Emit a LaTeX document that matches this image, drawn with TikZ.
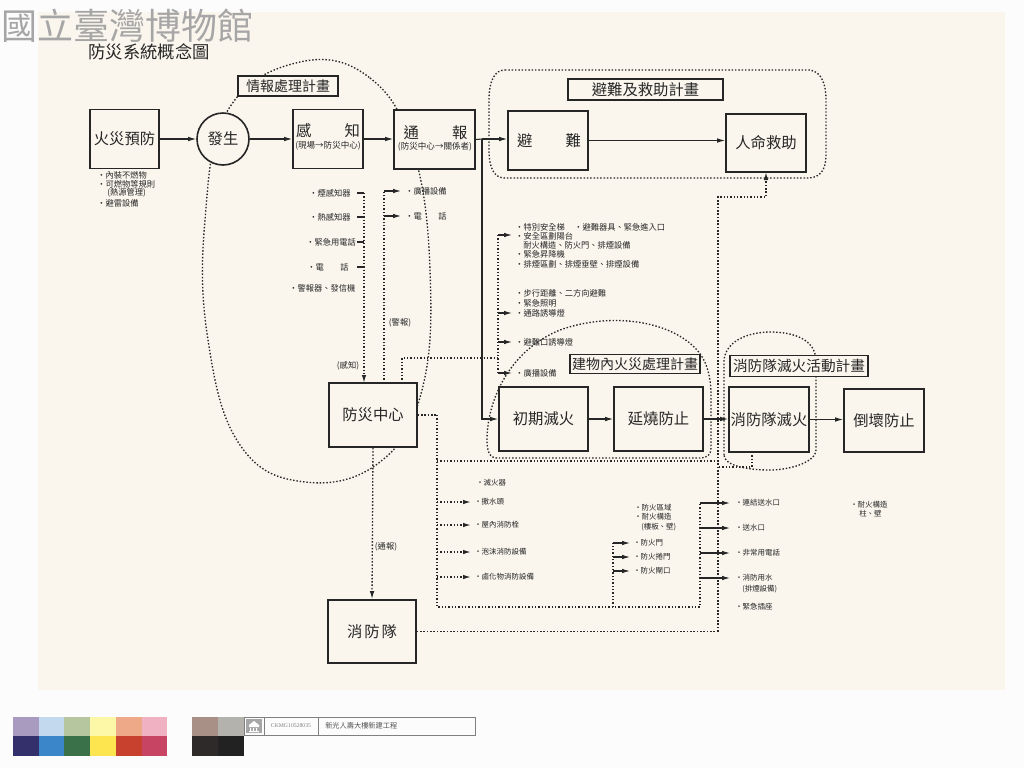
\documentclass[tikz,border=0pt]{standalone}
\usepackage{fontspec}
\setmainfont{Noto Sans CJK TC}
\newfontfamily\serifnum{Liberation Serif}
\usetikzlibrary{arrows.meta}
\definecolor{paper}{HTML}{FAF6EE}
\definecolor{ink}{HTML}{262626}
\definecolor{wm}{HTML}{A6A6A6}
\definecolor{cA}{HTML}{A99BC0}\definecolor{cB}{HTML}{C3D9EE}\definecolor{cC}{HTML}{B6C7A0}
\definecolor{cD}{HTML}{FDF7A8}\definecolor{cE}{HTML}{EEAA88}\definecolor{cF}{HTML}{F0B2C3}
\definecolor{dA}{HTML}{33306B}\definecolor{dB}{HTML}{3A86C8}\definecolor{dC}{HTML}{3A7149}
\definecolor{dD}{HTML}{FDE550}\definecolor{dE}{HTML}{C8412F}\definecolor{dF}{HTML}{C84463}
\definecolor{gA}{HTML}{A99087}\definecolor{gB}{HTML}{B4B2AD}\definecolor{gC}{HTML}{2E2A2A}\definecolor{gD}{HTML}{232222}
\begin{document}
\begin{tikzpicture}[x=0.75pt,y=-0.75pt,
  wh/.style 2 args={minimum width=#1*0.75pt,minimum height=#2*0.75pt},
  box/.style={draw=ink,line width=1.2pt,fill=paper,inner sep=0pt,text=ink,font=\fontsize{11.5}{13}\selectfont},
  lbl/.style={draw=ink,line width=1.1pt,fill=paper,inner sep=0pt,text=ink},
  big/.style={font=\fontsize{11.5}{13}\selectfont,text=ink,inner sep=0pt},
  sub/.style={font=\fontsize{6.4}{8}\selectfont,text=ink,inner sep=0pt},
  item/.style={font=\fontsize{6.2}{7.5}\selectfont,text=ink,anchor=west,inner sep=0pt},
  sitem/.style={font=\fontsize{5.6}{6.5}\selectfont,text=ink,anchor=west,inner sep=0pt},
  ln/.style={draw=ink,line width=0.8pt},
  arr/.style={ln,-{Latex[length=6pt,width=3.4pt]}},
  dot/.style={draw=ink,line width=1pt,dash pattern=on 1.1pt off 1.4pt},
  darr/.style={dot,-{Latex[length=6pt,width=3.4pt]}},
]
\useasboundingbox (0,0) rectangle (1024,768);
\fill[white!98!gray] (0,0) rectangle (1024,768);
\fill[paper] (38,12) rectangle (1005,690);

% watermark and title
\node[text=wm,font=\fontsize{27}{30}\selectfont,inner sep=0pt] (wmark) at (128,26) {國立臺灣博物館};
\node[text=ink,font=\fontsize{13}{15}\selectfont,inner sep=0pt] (title) at (149,52) {防災系統概念圖};

% plan outlines
\draw[dot] plot[smooth cycle, tension=0.7] coordinates {(300,62) (370,78) (413,150) (430,270) (422,390) (380,462) (305,482) (240,445) (208,340) (205,220) (228,110)};
\draw[dot] (505,70) -- (810,70) .. controls (822,72) and (826,85) .. (826,100) -- (826,155) .. controls (826,170) and (820,178) .. (808,178) -- (505,178) .. controls (494,178) and (489,168) .. (489,150) -- (489,100) .. controls (489,80) and (495,70) .. (505,70) -- cycle;
\draw[dot] (497,458) .. controls (489,458) and (487,450) .. (487,440) .. controls (487,400) and (510,350) .. (560,330) .. controls (610,312) and (670,320) .. (697,350) .. controls (708,362) and (711,380) .. (711,395) -- (711,448) .. controls (711,455) and (707,458) .. (700,458) -- cycle;
\draw[dot] (724,455) -- (724,360) .. controls (726,340) and (750,332) .. (770,332) .. controls (795,332) and (815,340) .. (816,360) -- (816,450) .. controls (816,462) and (790,470) .. (770,470) .. controls (745,470) and (724,465) .. (724,455) -- cycle;

% connectors (drawn before boxes)
\coordinate (J) at (482,139);
\coordinate (Jb) at (482,419);
\coordinate (R0) at (718,631.5);
\coordinate (R1) at (718,197);
\coordinate (R2) at (766,197);
\coordinate (C1) at (437,415);
\coordinate (C2) at (437,607);
\coordinate (C3) at (700,607);
\coordinate (C4) at (700,503);
\coordinate (C5) at (437,461);
\coordinate (C6) at (718,461);
\coordinate (F1) at (613,607);
\coordinate (F2) at (613,543);
\coordinate (S1) at (364,193);
\coordinate (S2) at (364,383);
\coordinate (A1) at (384,383);
\coordinate (A2) at (384,191);
\coordinate (E1) at (402,383);
\coordinate (E2) at (402,358);
\coordinate (E3) at (498,358);
\coordinate (E4) at (498,235);
\coordinate (E5) at (498,373);
\coordinate (B1) at (752,452);
\coordinate (B2) at (752,467);
\coordinate (B3) at (718,467);

\draw[darr] (R0) -- (R1) -- (R2) -- (766,172);
\draw[dot] (B1) -- (B2) -- (B3);
\draw[dot] (C1) -- (C2) -- (C3) -- (C4);
\draw[dot] (C5) -- (C6);
\foreach \y in {502,525,552,577} \draw[darr] (437,\y) -- (471,\y);
\draw[dot] (F1) -- (F2);
\foreach \y in {543,557,571} \draw[arr] (613,\y) -- (630,\y);
\foreach \y in {503,528,553,578} \draw[arr] (700,\y) -- (730,\y);
\foreach \y in {193,217,242,267} \draw[ln] (357,\y) -- (364,\y);
\draw[darr] (S1) -- (S2);
\draw[dot] (A1) -- (A2);
\draw[arr] (A2) -- (401,191);
\draw[arr] (384,216) -- (401,216);
\draw[dot] (E1) -- (E2) -- (E3);
\draw[dot] (E4) -- (E5);
\foreach \y in {235,313,342,373} \draw[arr] (498,\y) -- (512,\y);

% main nodes
\node[box,wh={69}{59}] (fire) at (124.5,139) {火災預防};
\node[box,circle,minimum size=52*0.75pt] (occur) at (223,139) {發生};
\node[box,wh={70}{59}] (sense) at (328,139) {};
\node[big] (sense-t) at (328,131) {感\hspace{25pt}知};
\node[sub] (sense-s) at (328,146) {(現場→防災中心)};
\node[box,wh={81}{59}] (report) at (434.5,139.5) {};
\node[big] (report-t) at (435.5,133) {通\hspace{25pt}報};
\node[sub] (report-s) at (435,147) {(防災中心→關係者)};
\node[box,wh={80}{59}] (evac) at (548,140.5) {};
\node[big] (evac-t) at (549,141) {避\hspace{25pt}難};
\node[box,wh={80}{58}] (rescue) at (766,143) {人命救助};
\node[box,wh={88}{64}] (center) at (373,415) {防災中心};
\node[box,wh={88}{63}] (brigade) at (372,631.5) {消\hspace{1.5pt}防\hspace{1.5pt}隊};
\node[box,wh={89}{64}] (initial) at (543.5,419) {初期滅火};
\node[box,wh={89}{64}] (spread) at (658.5,419) {延燒防止};
\node[box,wh={80}{65}] (brigadeext) at (769,419.5) {消防隊滅火};
\node[box,wh={80}{63}] (collapse) at (884,420.5) {倒壞防止};

\node[lbl,wh={100}{20},font=\fontsize{10.5}{12}\selectfont] (lab-info) at (288,86) {情報處理計畫};
\node[lbl,wh={155}{21},font=\fontsize{11.5}{13}\selectfont] (lab-evac) at (645.5,89.5) {避難及救助計畫};
\node[lbl,wh={130}{19},font=\fontsize{10.5}{12}\selectfont] (lab-bldg) at (635,364) {建物內火災處理計畫};
\node[lbl,wh={138}{21},font=\fontsize{11}{12}\selectfont] (lab-brig) at (799,366) {消防隊滅火活動計畫};

% solid arrows between boxes
\draw[arr] (fire.east) -- (occur.west);
\draw[arr] (occur.east) -- (sense.west);
\draw[arr] (sense.east) -- (sense.east -| report.west);
\draw[ln] (report.east) -- (J);
\draw[arr] (J) -- (J -| evac.west);
\draw[arr] (J) -- (Jb) -- (initial.west);
\draw[arr] (evac.east) -- (evac.east -| rescue.west);
\draw[arr] (initial.east) -- (spread.west);
\draw[arr] (spread.east) -- (spread.east -| brigadeext.west);
\draw[arr] (brigadeext.east) -- (brigadeext.east -| collapse.west);
\draw[darr] (center.south) -- (brigade.north);
\draw[dot] (brigade.east) -- (R0);
\draw[dot] (center.east) -- (C1);

% connector labels
\node[item,anchor=center] (l-sense) at (348,366) {(感知)};
\node[item,anchor=center] (l-alarm) at (400,323) {(警報)};
\node[item,anchor=center] (l-notify) at (386,547) {(通報)};

% lists: prevention
\node[item] (p1) at (97,175) {・內裝不燃物};
\node[item] (p2) at (97,184) {・可燃物等規則};
\node[item] (p3) at (107,193) {(熱源管理)};
\node[item] (p4) at (97,203) {・避雷設備};
% sensing
\node[item] (s1) at (309,193) {・煙感知器};
\node[item] (s2) at (309,217) {・熱感知器};
\node[item] (s3) at (306,242) {・緊急用電話};
\node[item] (s4) at (307,267) {・電　　話};
\node[item] (s5) at (289,288) {・警報器、發信機};
% alarm
\node[item] (a1) at (405,191) {・廣播設備};
\node[item] (a2) at (405,216) {・電　　話};
% evacuation
\node[item] (e1) at (515,227) {・特別安全梯};
\node[item] (e1b) at (574,227) {・避難器具、緊急進入口};
\node[item] (e2) at (515,236) {・安全區劃陽台};
\node[item] (e3) at (523,245) {耐火構造、防火門、排煙設備};
\node[item] (e4) at (515,254) {・緊急昇降機};
\node[item] (e5) at (515,264) {・排煙區劃、排煙垂壁、排煙設備};
\node[item] (e6) at (515,293) {・步行距離、二方向避難};
\node[item] (e7) at (515,303) {・緊急照明};
\node[item] (e8) at (515,313) {・通路誘導燈};
\node[item] (e9) at (515,342) {・避難口誘導燈};
\node[item] (e10) at (515,373) {・廣播設備};
% extinguishing
\node[sitem] (x1) at (476,483) {・滅火器};
\node[sitem] (x2) at (474,502) {・撒水頭};
\node[sitem] (x3) at (474,525) {・屋內消防栓};
\node[sitem] (x4) at (474,552) {・泡沫消防設備};
\node[sitem] (x5) at (474,577) {・鹵化物消防設備};
% compartments
\node[sitem] (f1) at (634,508) {・防火區域};
\node[sitem] (f2) at (634,517) {・耐火構造};
\node[sitem] (f3) at (641,527) {(樓板、壁)};
\node[sitem] (f4) at (633,543) {・防火門};
\node[sitem] (f5) at (633,557) {・防火捲門};
\node[sitem] (f6) at (633,571) {・防火閘口};
% brigade support
\node[sitem] (b1) at (735,503) {・連結送水口};
\node[sitem] (b2) at (735,528) {・送水口};
\node[sitem] (b3) at (735,553) {・非常用電話};
\node[sitem] (b4) at (735,578) {・消防用水};
\node[sitem] (b5) at (742,589) {(排煙設備)};
\node[sitem] (b6) at (735,607) {・緊急插座};
% collapse
\node[sitem] (c1) at (850,505) {・耐火構造};
\node[sitem] (c2) at (859,514) {柱、壁};

% colour bar
\foreach \c [count=\i from 0] in {cA,cB,cC,cD,cE,cF} \fill[\c] (13+25.7*\i,717) rectangle (13+25.7*\i+25.7,736);
\foreach \c [count=\i from 0] in {dA,dB,dC,dD,dE,dF} \fill[\c] (13+25.7*\i,736) rectangle (13+25.7*\i+25.7,756);
\fill[gA] (192,717) rectangle (218,736);
\fill[gB] (218,717) rectangle (244,736);
\fill[gC] (192,736) rectangle (218,756);
\fill[gD] (218,736) rectangle (244,756);
\draw[gray,line width=0.6pt] (244,717) rectangle (475,735);
\draw[gray,line width=0.6pt] (264,717) -- (264,735) (318,717) -- (318,735);
\fill[gray!70] (246,719) rectangle (262,733);
\fill[white] (249,725) rectangle (259,727) (250,728) rectangle (251,731) (253,728) rectangle (254,731) (256,728) rectangle (257,731) (249,731) rectangle (259,732);
\fill[white] (249,725) -- (254,721) -- (259,725) -- cycle;
\node[text=gray,font=\serifnum\fontsize{4.3}{5}\selectfont,inner sep=0pt] (code) at (291,726) {CKMG10528035};
\node[text=ink!80,font=\fontsize{5.4}{6}\selectfont,inner sep=0pt,anchor=west] (proj) at (325,726) {新光人壽大樓新建工程};
\end{tikzpicture}
\end{document}
